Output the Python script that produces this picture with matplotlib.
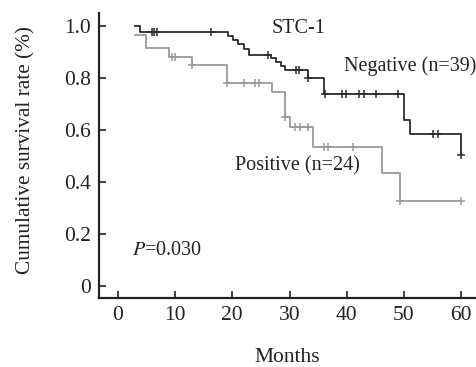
import matplotlib
matplotlib.use("Agg")
import matplotlib.pyplot as plt

# Kaplan-Meier steps
neg_times = [3.0, 3.8, 19.2, 20.2, 21.0, 22.0, 23.0, 26.8, 27.6, 28.5, 29.2, 33.2, 36.1, 50.1, 51.0, 60.0]
neg_surv = [1.0, 0.978, 0.96, 0.945, 0.93, 0.91, 0.888, 0.875, 0.86, 0.845, 0.83, 0.80, 0.74, 0.64, 0.583, 0.505]
neg_cens_t = [5.9, 6.4, 6.9, 16.2, 26.2, 31.1, 31.7, 33.2, 36.2, 39.1, 39.9, 42.2, 43.0, 45.1, 49.0, 55.1, 56.0, 60.0]
neg_cens_s = [0.978, 0.978, 0.978, 0.978, 0.888, 0.83, 0.83, 0.80, 0.74, 0.74, 0.74, 0.74, 0.74, 0.74, 0.74, 0.583, 0.583, 0.505]

pos_times = [3.0, 5.0, 8.9, 13.0, 19.0, 27.0, 29.2, 30.1, 34.1, 46.1, 49.3, 60.0]
pos_surv = [0.965, 0.915, 0.88, 0.85, 0.78, 0.745, 0.65, 0.61, 0.535, 0.435, 0.325, 0.325]
pos_cens_t = [9.4, 10.0, 13.0, 19.0, 22.1, 23.9, 24.7, 29.2, 31.0, 31.8, 33.2, 36.1, 36.7, 41.1, 49.3, 60.0]
pos_cens_s = [0.88, 0.88, 0.85, 0.78, 0.78, 0.78, 0.78, 0.65, 0.61, 0.61, 0.61, 0.535, 0.535, 0.535, 0.325, 0.325]

x_ticks = [0, 10, 20, 30, 40, 50, 60]
y_ticks = [0, 0.2, 0.4, 0.6, 0.8, 1.0]
y_labels = ["0", "0.2", "0.4", "0.6", "0.8", "1.0"]

dark = "#2b2b2b"
gray = "#9a9a9a"

plt.rcParams["font.family"] = ["Liberation Serif", "DejaVu Serif"]

fig = plt.figure(figsize=(4.76, 3.67), dpi=100)
ax = fig.add_axes([0.208, 0.188, 0.792, 0.777])

ax.step(pos_times, pos_surv, where="post", color=gray, lw=1.3)
ax.plot(pos_cens_t, pos_cens_s, ls="none", marker="+", ms=6, mew=1.1, color=gray)
ax.step(neg_times, neg_surv, where="post", color=dark, lw=1.3)
ax.plot(neg_cens_t, neg_cens_s, ls="none", marker="+", ms=6, mew=1.1, color=dark)

ax.set_xlim(-3.3, 62.6)
ax.set_ylim(-0.046, 1.05)
ax.set_xticks(x_ticks)
ax.set_yticks(y_ticks)
ax.set_yticklabels(y_labels)
ax.tick_params(direction="in", length=5, width=1.2, labelsize=15.5, colors="#222222", pad=6)
for s in ["top", "right"]:
    ax.spines[s].set_visible(False)
for s in ["left", "bottom"]:
    ax.spines[s].set_linewidth(1.6)
    ax.spines[s].set_color("#222222")

ax.set_xlabel("Months", fontsize=15.5, labelpad=16, color="#222222")
ax.set_ylabel("Cumulative survival rate (%)", fontsize=15.3, labelpad=20, color="#222222", y=0.52)

ax.text(31.5, 0.99, "STC-1", fontsize=14.5, ha="center", va="center", color="#222222")
ax.text(62.6, 0.845, "Negative (n=39)", fontsize=14.5, ha="right", va="center", color="#222222")
ax.text(20.5, 0.46, "Positive (n=24)", fontsize=14.5, ha="left", va="center", color="#222222")
ax.text(2.5, 0.138, "$P$=0.030", fontsize=14.5, ha="left", va="center", color="#222222",
        math_fontfamily="stix")

fig.savefig("out.png", dpi=100)
